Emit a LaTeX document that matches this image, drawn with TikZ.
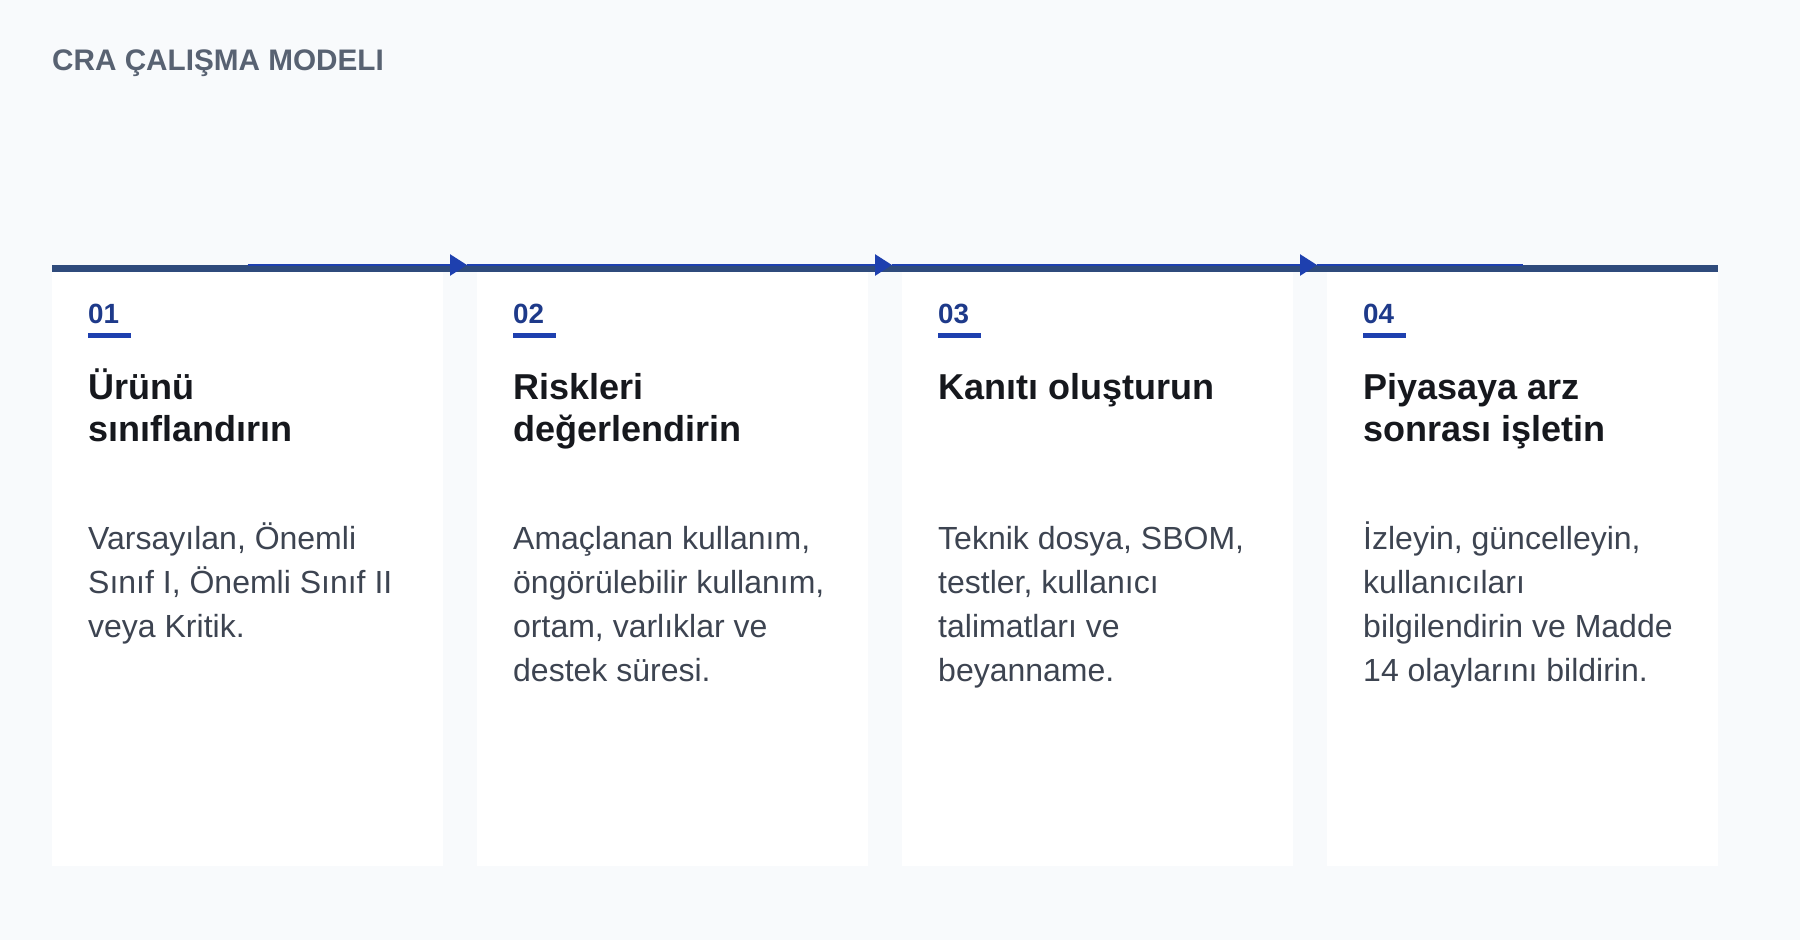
\documentclass[tikz,border=0pt]{standalone}
\usepackage{fontspec}
\setmainfont{Liberation Sans}
\usetikzlibrary{arrows.meta}
\definecolor{bgc}{HTML}{F8FAFC}
\definecolor{titlec}{HTML}{586272}
\definecolor{barc}{HTML}{2F4B7C}
\definecolor{flowc}{HTML}{1E40AF}
\definecolor{numc}{HTML}{1E3A8A}
\definecolor{headc}{HTML}{16181D}
\definecolor{bodyc}{HTML}{3D4451}
\tikzset{
  card/.style={fill=white, draw=none, minimum width=391pt, minimum height=594pt, anchor=north west, inner sep=0pt},
  numtext/.style={anchor=base west, inner sep=0pt, text=numc, font=\fontsize{27.8}{32}\selectfont\bfseries},
  numline/.style={fill=flowc, draw=none},
  headtext/.style={anchor=base west, inner sep=0pt, text=headc, align=left, font=\fontsize{36}{42.6}\selectfont\bfseries},
  bodytext/.style={anchor=base west, inner sep=0pt, text=bodyc, align=left, font=\fontsize{32}{44}\selectfont},
  flowline/.style={draw=flowc, line width=2.6pt},
  flowarrow/.style={flowline, -{Triangle[length=17pt, width=21pt]}},
}
\begin{document}
\begin{tikzpicture}[x=1pt, y=-1pt]
\useasboundingbox (0,0) rectangle (1800,940);
\fill[bgc] (0,0) rectangle (1800,940);
\node[anchor=base west, inner sep=0pt, text=titlec, font=\fontsize{29.7}{34}\selectfont\bfseries] (title) at (52,70.5) {CRA ÇALIŞMA MODELI};
% cards
\node[card] (c1) at (52,272) {};
\node[card] (c2) at (477,272) {};
\node[card] (c3) at (902,272) {};
\node[card] (c4) at (1327,272) {};
% top bar
\fill[barc] (52,264.5) rectangle (1718,272);
% flow line and arrows
\coordinate (m1) at (247.5,265);
\coordinate (t1) at (467,265);
\coordinate (t2) at (892,265);
\coordinate (t3) at (1317,265);
\coordinate (m4) at (1522.5,265);
\draw[flowline] (t3) -- (m4);
\draw[flowarrow] (t2) -- (t3);
\draw[flowarrow] (t1) -- (t2);
\draw[flowarrow] (m1) -- (t1);
% card contents (anchor: baseline of the last line)
\foreach \i/\x/\n in {1/88/01, 2/513/02, 3/938/03, 4/1363/04} {
  \node[numtext] (n\i) at (\x,323) {\n};
  \fill[numline] (\x,333) rectangle ++(43,5);
}
\node[headtext] (h1) at (88,441.6) {Ürünü\\sınıflandırın};
\node[headtext] (h2) at (513,441.6) {Riskleri\\değerlendirin};
\node[headtext] (h3) at (938,399) {Kanıtı oluşturun};
\node[headtext] (h4) at (1363,441.6) {Piyasaya arz\\sonrası işletin};
\node[bodytext] (b1) at (88,637) {Varsayılan, Önemli\\Sınıf I, Önemli Sınıf II\\veya Kritik.};
\node[bodytext] (b2) at (513,681) {Amaçlanan kullanım,\\öngörülebilir kullanım,\\ortam, varlıklar ve\\destek süresi.};
\node[bodytext] (b3) at (938,681) {Teknik dosya, SBOM,\\testler, kullanıcı\\talimatları ve\\beyanname.};
\node[bodytext] (b4) at (1363,681) {İzleyin, güncelleyin,\\kullanıcıları\\bilgilendirin ve Madde\\14 olaylarını bildirin.};
\end{tikzpicture}
\end{document}
